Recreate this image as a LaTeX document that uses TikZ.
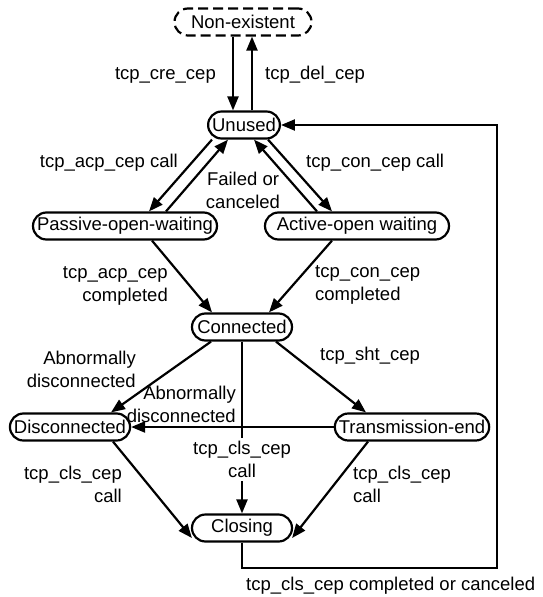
\documentclass[tikz,border=0pt]{standalone}
\usepackage{fontspec}
\setmainfont{Liberation Sans}
\usetikzlibrary{arrows.meta}
\begin{document}
\begin{tikzpicture}[x=1pt,y=-1pt,
  every node/.style={font=\fontsize{18.5}{23}\selectfont},
  state/.style={draw, line width=2.2pt, rounded corners=13.5pt, minimum height=27pt, inner xsep=4pt, inner ysep=0pt},
  lbl/.style={inner sep=0pt},
  arr/.style={line width=2.2pt, -{Triangle[length=14pt,width=11pt]}},
  ln/.style={line width=2.2pt}]
\useasboundingbox (0,0) rectangle (542,597);
% states
\node[state, dash pattern=on 10pt off 5pt, minimum width=137pt] (nonex) at (243,22) {Non-existent};
\node[state] (unused) at (244,125) {Unused};
\node[state, minimum width=184pt] (passive) at (125,226) {Passive-open-waiting};
\node[state, minimum width=184pt] (active) at (357,226) {Active-open waiting};
\node[state, minimum width=100pt] (connected) at (242,327) {Connected};
\node[state] (discon) at (70,427) {Disconnected};
\node[state] (transend) at (412,427) {Transmission-end};
\node[state, minimum width=100pt] (closing) at (242,528) {Closing};
\coordinate (rc) at (497,568);
% connectors
\draw[arr] ([xshift=-10pt]nonex.south) -- ([xshift=-10pt]nonex.south |- unused.north);
\draw[arr] ([xshift=9pt]nonex.south |- unused.north) -- ([xshift=9pt]nonex.south);
\draw[arr] ([xshift=-32pt]unused.south) -- ([xshift=24pt]passive.north);
\draw[arr] ([xshift=41pt]passive.north) -- ([xshift=-16pt]unused.south);
\draw[arr] ([xshift=24pt]unused.south) -- ([xshift=-25pt]active.north);
\draw[arr] ([xshift=-40pt]active.north) -- ([xshift=10pt]unused.south);
\draw[arr] ([xshift=27pt]passive.south) -- ([xshift=-30pt]connected.north);
\draw[arr] ([xshift=-25pt]active.south) -- ([xshift=27pt]connected.north);
\draw[arr] ([xshift=-31pt]connected.south) -- ([xshift=41pt]discon.north);
\draw[arr] ([xshift=34pt]connected.south) -- ([xshift=-46pt]transend.north);
\draw[arr] (transend.west) -- (discon.east);
\node[lbl, align=center, inner ysep=3.3pt] (clsmid) at (242,459.5) {tcp\_cls\_cep\\call};
\draw[ln] (connected.south) -- (clsmid.north);
\draw[arr] (clsmid.south) -- (closing.north);
\draw[arr] ([xshift=43pt]discon.south) -- ([shift={(1pt,-10pt)}]closing.west);
\draw[arr] ([xshift=-44pt]transend.south) -- ([shift={(-1pt,-10pt)}]closing.east);
\draw[arr] (closing.south) |- (rc) |- (unused.east);
% labels
\node[lbl, anchor=east] (l1) at (216,75) {tcp\_cre\_cep};
\node[lbl, anchor=west] (l2) at (265,75) {tcp\_del\_cep};
\node[lbl, anchor=east] (l3) at (178,163) {tcp\_acp\_cep call};
\node[lbl, align=center] (l4) at (243,190) {Failed or\\canceled};
\node[lbl, anchor=west] (l5) at (306,163) {tcp\_con\_cep call};
\node[lbl, anchor=east, align=right] (l6) at (168,286) {tcp\_acp\_cep\\completed};
\node[lbl, anchor=west, align=left] (l7) at (315,285) {tcp\_con\_cep\\completed};
\node[lbl, anchor=east, align=right] (l8) at (136,369) {Abnormally\\disconnected};
\node[lbl, anchor=east, align=right] (l9) at (236,404) {Abnormally\\disconnected};
\node[lbl, anchor=west] (l10) at (320,356) {tcp\_sht\_cep};
\node[lbl, anchor=east, align=right] (l11) at (122,484) {tcp\_cls\_cep\\call};
\node[lbl, anchor=west, align=left] (l12) at (353,484) {tcp\_cls\_cep\\call};
\node[lbl, anchor=west] (l13) at (246,586) {tcp\_cls\_cep completed or canceled};
\end{tikzpicture}
\end{document}
